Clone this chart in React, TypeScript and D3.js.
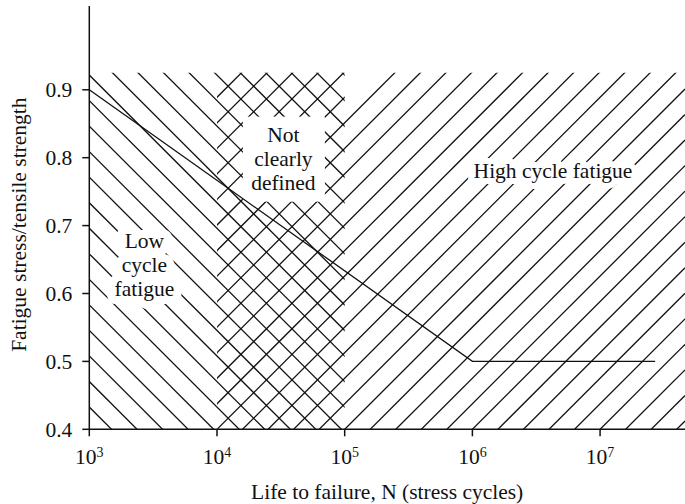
import React from "react";
import * as d3 from "d3";

// ---- data ----
const xTickValues = [1e3, 1e4, 1e5, 1e6, 1e7];
const xTickExponents = ["3", "4", "5", "6", "7"];
const yTickValues = [0.4, 0.5, 0.6, 0.7, 0.8, 0.9];
const curveN = [1e3, 1e6, 2.7e7];
const curveS = [0.9, 0.5, 0.5];

const xDomain = [1e3, Math.pow(10, 7.665)];
const yDomain = [0.4, 1.0234];
const hatchTop = 0.925;
// regions (N, stress)
const lowRegionN = [1e3, 1e5];
const crossRegionN = [1e4, 1e5];
const highRegion: [number, number][] = [
  [1e5, 0.4],
  [1e5, 0.87],
  [1.98e5, 0.925],
  [Math.pow(10, 7.665), 0.925],
  [Math.pow(10, 7.665), 0.4],
];

const labelLow = { lines: ["Low", "cycle", "fatigue"], n: 2.7e3, s: 0.6675 };
const labelNot = { lines: ["Not", "clearly", "defined"], n: 3.31e4, s: 0.8236 };
const labelHigh = { lines: ["High cycle fatigue"], n: 4.28e6, s: 0.7708 };

const xTitle = "Life to failure, N (stress cycles)";
const yTitle = "Fatigue stress/tensile strength";

const FONT = "'Liberation Serif', 'Times New Roman', serif";

export default function App() {
  const x = d3.scaleLog().domain(xDomain).range([89.3, 685]);
  const y = d3.scaleLinear().domain(yDomain).range([429.3, 6]);

  const x0 = x.range()[0];
  const x1 = x.range()[1];
  const y0 = y(hatchTop);
  const y1 = y(0.4);
  const sp = (x(1e4) - x(1e3)) / 5;

  // backslash lines: y = x + c
  const bsPhase = y(0.4) - x(1e3) - 0.87 * sp;
  const bsLines: [number, number, number, number][] = [];
  {
    const cmin = y0 - x1, cmax = y1 - x0;
    const kmin = Math.ceil((cmin - bsPhase) / sp), kmax = Math.floor((cmax - bsPhase) / sp);
    for (const k of d3.range(kmin, kmax + 1)) {
      const c = bsPhase + k * sp;
      bsLines.push([x0, x0 + c, x1, x1 + c]);
    }
  }
  // slash lines: y = c - x
  const slPhase = x(1e4) + y(0.4);
  const slLines: [number, number, number, number][] = [];
  {
    const cmin = x0 + y0, cmax = x1 + y1;
    const kmin = Math.ceil((cmin - slPhase) / sp), kmax = Math.floor((cmax - slPhase) / sp);
    for (const k of d3.range(kmin, kmax + 1)) {
      const c = slPhase + k * sp;
      slLines.push([x0, c - x0, x1, c - x1]);
    }
  }

  const curve = d3
    .line<number>()
    .x((_, i) => x(curveN[i]))
    .y((_, i) => y(curveS[i]))(curveN.map((_, i) => i));

  const highPath = d3
    .line<[number, number]>()
    .x((d) => x(d[0]))
    .y((d) => y(d[1]))(highRegion) + "Z";

  const lh = 24;
  const fs = 21.5;

  const notX = x(labelNot.n);
  const notY = y(labelNot.s);

  const renderLabel = (lab: { lines: string[]; n: number; s: number }, halo: number) => {
    const cx = x(lab.n);
    const by = y(lab.s);
    return (
      <g fontFamily={FONT} fontSize={fs} textAnchor="middle">
        {halo > 0 &&
          lab.lines.map((t, i) => (
            <text key={"h" + i} x={cx} y={by + i * lh} fill="white" stroke="white" strokeWidth={halo} strokeLinejoin="round">
              {t}
            </text>
          ))}
        {lab.lines.map((t, i) => (
          <text key={"t" + i} x={cx} y={by + i * lh} fill="#111">
            {t}
          </text>
        ))}
      </g>
    );
  };

  return (
    <svg
      width={685}
      height={504}
      style={{ position: "fixed", left: 0, top: 0, background: "white" }}
    >
      <defs>
        <clipPath id="clipLow">
          <rect x={x(lowRegionN[0])} y={y0} width={x(lowRegionN[1]) - x(lowRegionN[0])} height={y1 - y0} />
        </clipPath>
        <clipPath id="clipHigh">
          <rect x={x(crossRegionN[0])} y={y0} width={x(crossRegionN[1]) - x(crossRegionN[0])} height={y1 - y0} />
          <path d={highPath} />
        </clipPath>
      </defs>
      <rect x={0} y={0} width={685} height={504} fill="white" />

      <g clipPath="url(#clipLow)" stroke="#111" strokeWidth={1.3}>
        {bsLines.map((l, i) => (
          <line key={i} x1={l[0]} y1={l[1]} x2={l[2]} y2={l[3]} />
        ))}
      </g>
      <g clipPath="url(#clipHigh)" stroke="#111" strokeWidth={1.3}>
        {slLines.map((l, i) => (
          <line key={i} x1={l[0]} y1={l[1]} x2={l[2]} y2={l[3]} />
        ))}
      </g>

      {/* knockout for "Not clearly defined" */}
      <rect x={notX - 40.5} y={notY - 25} width={82} height={2 * lh + 37} fill="white" />

      {renderLabel(labelLow, 16)}
      {renderLabel(labelHigh, 12)}

      <path d={curve || ""} fill="none" stroke="#111" strokeWidth={1.3} />

      {renderLabel(labelNot, 0)}

      {/* axes */}
      <g stroke="#111" strokeWidth={1.5} fill="none">
        <line x1={x0} y1={y.range()[1]} x2={x0} y2={y1} />
        <line x1={x0} y1={y1} x2={x1} y2={y1} />
        {yTickValues.map((v) => (
          <line key={"yt" + v} x1={x0 - 7} y1={y(v)} x2={x0} y2={y(v)} />
        ))}
        {xTickValues.map((v) => (
          <line key={"xt" + v} x1={x(v)} y1={y1} x2={x(v)} y2={y1 + 7} />
        ))}
      </g>
      <g fontFamily={FONT} fontSize={fs} fill="#111">
        {yTickValues.map((v) => (
          <text key={"yl" + v} x={x0 - 17} y={y(v)} dy="0.34em" textAnchor="end">
            {d3.format(".1f")(v)}
          </text>
        ))}
        {xTickValues.map((v, i) => (
          <text key={"xl" + v} x={x(v)} y={464} textAnchor="middle">
            10
            <tspan fontSize={14} dy={-7}>
              {xTickExponents[i]}
            </tspan>
          </text>
        ))}
        <text x={(x0 + x1) / 2} y={499} textAnchor="middle">
          {xTitle}
        </text>
        <text
          transform={`translate(26, ${(y.range()[1] + y1) / 2 + 7}) rotate(-90)`}
          textAnchor="middle"
        >
          {yTitle}
        </text>
      </g>
    </svg>
  );
}
